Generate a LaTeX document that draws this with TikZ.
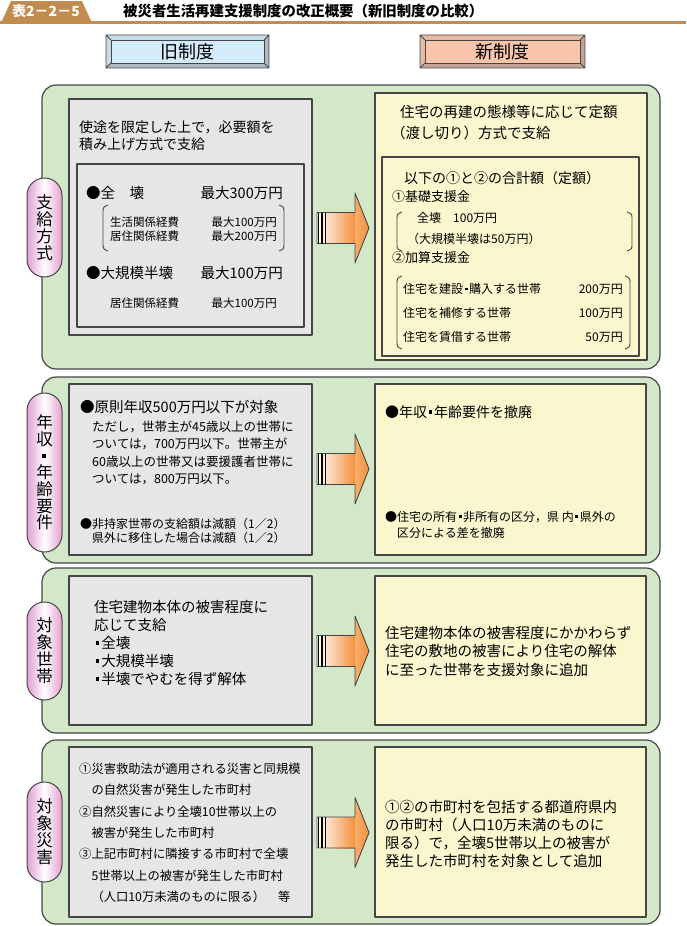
\documentclass[tikz,border=0pt]{standalone}
\usepackage{fontspec}
\setmainfont{Noto Sans CJK JP}
\definecolor{panelgreen}{RGB}{210,232,200}
\definecolor{oldgray}{RGB}{230,230,230}
\definecolor{newyellow}{RGB}{250,246,206}
\definecolor{oldblue}{RGB}{212,236,250}
\definecolor{newsalmon}{RGB}{248,196,170}
\definecolor{tabbrown}{RGB}{192,140,80}
\definecolor{pillpink}{RGB}{226,158,210}
\definecolor{arroworange}{RGB}{245,145,60}
\definecolor{edgegray}{RGB}{70,70,70}
\newcommand{\fs}[2]{\fontsize{#1}{#2}\selectfont}
\newcommand{\sqdot}{\kern0.12em\rule[0.26em]{0.24em}{0.24em}\kern0.14em}

\begin{document}
\begin{tikzpicture}[x=1pt, y=-1pt, line join=round]
  \tikzset{
    panel/.style={draw=edgegray, line width=1.2pt, fill=panelgreen, rounded corners=14pt},
    oldbox/.style={draw=edgegray, line width=1.1pt, fill=oldgray},
    newbox/.style={draw=edgegray, line width=1.1pt, fill=newyellow},
    txt/.style={inner sep=0pt, anchor=west},
    para/.style={inner sep=0pt, anchor=north west, align=left},
    pill/.style={draw=edgegray, line width=1pt, left color=pillpink, right color=pillpink, middle color=white, rounded corners=17.5pt},
    pilltxt/.style={inner sep=0pt, align=center, font={\fs{16.5}{17}\lineskiplimit=-20pt}},
    paren/.style={draw=edgegray, line width=0.9pt},
  }
  \useasboundingbox (0,0) rectangle (686,926);

  % title
  \fill[tabbrown] (0,20.5) rectangle (686,23.5);
  \fill[tabbrown] (1,23) -- (11,1) -- (82,1) -- (92,23) -- cycle;
  \node[text=white, font=\fs{14}{14}\bfseries] (tabno) at (46,11.5) {表2－2－5};
  \node[txt, font=\fs{14.4}{15}\bfseries] (title) at (123,11) {被災者生活再建支援制度の改正概要（新旧制度の比較）};

  % heads
  \fill[oldblue!55!gray] (106,35) rectangle (269,68);
  \fill[oldblue!85!gray] (106,35) -- (269,35) -- (264,40) -- (111,40) -- (111,63) -- (106,68) -- cycle;
  \draw[edgegray, line width=0.8pt] (106,35) rectangle (269,68) (106,35) -- (111,40) (269,35) -- (264,40) (106,68) -- (111,63) (269,68) -- (264,63);
  \node[draw=edgegray, line width=0.8pt, fill=oldblue, minimum width=153pt, minimum height=23pt, inner sep=0pt, font=\fs{18}{18}] (oldhead) at (187.5,51.5) {旧制度};
  \fill[newsalmon!55!gray] (420,35) rectangle (585,68);
  \fill[newsalmon!85!gray] (420,35) -- (585,35) -- (580,40) -- (425,40) -- (425,63) -- (420,68) -- cycle;
  \draw[edgegray, line width=0.8pt] (420,35) rectangle (585,68) (420,35) -- (425,40) (585,35) -- (580,40) (420,68) -- (425,63) (585,68) -- (580,63);
  \node[draw=edgegray, line width=0.8pt, fill=newsalmon, minimum width=155pt, minimum height=23pt, inner sep=0pt, font=\fs{18}{18}] (newhead) at (502.5,51.5) {新制度};

  % panels and boxes
  \foreach \ya/\yb in {85/369, 377/563, 568/733, 740/924}
    \draw[panel] (42,\ya) rectangle (660,\yb);
  \draw[oldbox] (69,99) rectangle (312,335);
  \draw[oldbox] (77,164) rectangle (304,327);
  \draw[newbox] (375,93) rectangle (647,360);
  \draw[newbox] (382,157) rectangle (639,356);
  \foreach \ya/\yb in {384/555, 576/725, 747/917} {
    \draw[oldbox] (69,\ya) rectangle (312,\yb);
    \draw[newbox] (375,\ya) rectangle (646,\yb);
  }

  % arrows
  \foreach \ay in {228,469,651,832.5} {
    \shade[left color=white, right color=arroworange] (317,\ay-15.5) rectangle (355,\ay+15.5);
    \shade[left color=arroworange!75!white, right color=arroworange] (355,\ay-35) -- (369,\ay) -- (355,\ay+35) -- cycle;
    \draw[edgegray, line width=0.9pt] (317,\ay-15.5) -- (355,\ay-15.5) -- (355,\ay-35) -- (369,\ay) -- (355,\ay+35) -- (355,\ay+15.5) -- (317,\ay+15.5) -- cycle;
    \foreach \sx in {318.5,322,325.5} \draw[line width=1.3pt] (\sx,\ay-15.5) -- (\sx,\ay+15.5);
  }

  % side labels
  \foreach \ya/\yb in {178/277, 393/552, 602/700, 782/882}
    \path[pill] (27,\ya) rectangle (62,\yb);
  \node[pilltxt] (lab1) at (44.5,227.5) {支\\給\\方\\式};
  \node[pilltxt, font={\fs{16.5}{16.7}\lineskiplimit=-20pt}] (lab2) at (44.5,472.5) {年\\収\\\sqdot\\年\\齢\\要\\件};
  \node[pilltxt] (lab3) at (44.5,651) {対\\象\\世\\帯};
  \node[pilltxt] (lab4) at (44.5,832) {対\\象\\災\\害};

  % old system: payment
  \node[para, font=\fs{14}{17}] (usage) at (79,121) {使途を限定した上で，必要額を\\積み上げ方式で支給};
  \node[txt, font=\fs{14.5}{15}] (zenkai) at (86,193) {●全　壊};
  \node[txt, anchor=east, font=\fs{14.5}{15}] (zenkaimax) at (283,193) {最大300万円};
  \node[txt, font=\fs{11.5}{12}] (seikatsu) at (110,222) {生活関係経費};
  \node[txt, anchor=east, font=\fs{11.5}{12}] (seikatsumax) at (277,222) {最大100万円};
  \node[txt, font=\fs{11.5}{12}] (kyojuA) at (110,236) {居住関係経費};
  \node[txt, anchor=east, font=\fs{11.5}{12}] (kyojuAmax) at (277,236) {最大200万円};
  \draw[paren] (108,205) .. controls (103,207) .. (103,213) -- (103,243) .. controls (103,249) .. (108,251);
  \draw[paren] (279,205) .. controls (284,207) .. (284,213) -- (284,243) .. controls (284,249) .. (279,251);
  \node[txt, font=\fs{14.5}{15}] (daikibo) at (86,273) {●大規模半壊};
  \node[txt, anchor=east, font=\fs{14.5}{15}] (daikibomax) at (283,273) {最大100万円};
  \node[txt, font=\fs{11.5}{12}] (kyojuB) at (110,303) {居住関係経費};
  \node[txt, anchor=east, font=\fs{11.5}{12}] (kyojuBmax) at (277,303) {最大100万円};

  % new system: payment
  \node[txt, font=\fs{14.5}{15}] (teigaku) at (400,112) {住宅の再建の態様等に応じて定額};
  \node[txt, font=\fs{14.5}{15}] (watashi) at (391,133) {（渡し切り）方式で支給};
  \node[txt, font=\fs{14}{15}] (goukei) at (404,178) {以下の①と②の合計額（定額）};
  \node[txt, font=\fs{13}{14}] (kiso) at (392,197) {①基礎支援金};
  \node[txt, font=\fs{12}{13}] (kisoA) at (417,218) {全壊　100万円};
  \node[txt, font=\fs{12}{13}] (kisoB) at (407,239) {（大規模半壊は50万円）};
  \draw[paren] (402,212) .. controls (397,214) .. (397,219) -- (397,244) .. controls (397,249) .. (402,251);
  \draw[paren] (627,212) .. controls (632,214) .. (632,219) -- (632,244) .. controls (632,249) .. (627,251);
  \node[txt, font=\fs{13}{14}] (kasan) at (392,258) {②加算支援金};
  \node[txt, font=\fs{12}{13}] (kasanA) at (403,289) {住宅を建設\sqdot 購入する世帯};
  \node[txt, anchor=east, font=\fs{12}{13}] (kasanAyen) at (623,289) {200万円};
  \node[txt, font=\fs{12}{13}] (kasanB) at (403,313) {住宅を補修する世帯};
  \node[txt, anchor=east, font=\fs{12}{13}] (kasanByen) at (623,313) {100万円};
  \node[txt, font=\fs{12}{13}] (kasanC) at (403,337) {住宅を賃借する世帯};
  \node[txt, anchor=east, font=\fs{12}{13}] (kasanCyen) at (623,337) {50万円};
  \draw[paren] (402,276) .. controls (397,278) .. (397,284) -- (397,341) .. controls (397,347) .. (402,349);
  \draw[paren] (625,276) .. controls (630,278) .. (630,284) -- (630,341) .. controls (630,347) .. (625,349);

  % income and age
  \node[txt, font=\fs{14.5}{15}] (gensoku) at (80,407) {●原則年収500万円以下が対象};
  \node[para, font=\fs{12.5}{17.5}] (tadashi) at (92,420.5) {ただし，世帯主が45歳以上の世帯に\\ついては，700万円以下。世帯主が\\60歳以上の世帯又は要援護者世帯に\\ついては，800万円以下。};
  \node[para, font=\fs{12}{14}] (hijika) at (80,518) {●非持家世帯の支給額は減額（1／2）\\　県外に移住した場合は減額（1／2）};
  \node[txt, font=\fs{14}{15}] (teppai) at (385,412) {●年収\sqdot 年齢要件を撤廃};
  \node[para, font=\fs{12}{16}] (kubun) at (385,511) {●住宅の所有\sqdot 非所有の区分，県 内\sqdot 県外の\\　区分による差を撤廃};

  % households
  \node[para, font=\fs{14.5}{18}] (higai) at (94,600) {住宅建物本体の被害程度に\\応じて支給\\\sqdot 全壊\\\sqdot 大規模半壊\\\sqdot 半壊でやむを得ず解体};
  \node[para, font=\fs{14.5}{18.5}] (shikichi) at (385,626) {住宅建物本体の被害程度にかかわらず\\住宅の敷地の被害により住宅の解体\\に至った世帯を支援対象に追加};

  % disasters
  \node[para, font=\fs{12.3}{21.3}] (saigai) at (79,763) {①災害救助法が適用される災害と同規模\\　の自然災害が発生した市町村\\②自然災害により全壊10世帯以上の\\　被害が発生した市町村\\③上記市町村に隣接する市町村で全壊\\　5世帯以上の被害が発生した市町村\\　（人口10万未満のものに限る）};
  \node[txt, font=\fs{12.3}{13}] (tou) at (278,897) {等};
  \node[para, font=\fs{14.5}{18}] (tsuika) at (385,800) {①②の市町村を包括する都道府県内\\の市町村（人口10万未満のものに\\限る）で，全壊5世帯以上の被害が\\発生した市町村を対象として追加};
\end{tikzpicture}
\end{document}
